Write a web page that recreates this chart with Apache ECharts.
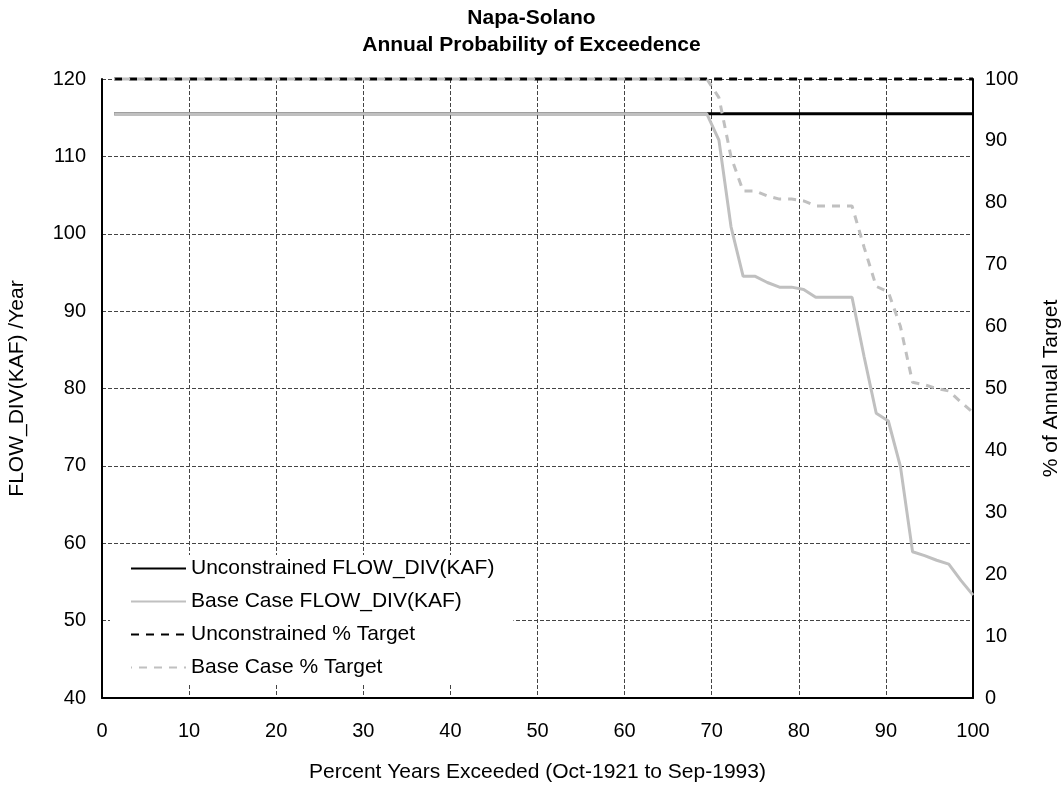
<!DOCTYPE html>
<html>
<head>
<meta charset="utf-8">
<title>Napa-Solano Annual Probability of Exceedence</title>
<script src="https://cdn.jsdelivr.net/npm/echarts@6/dist/echarts.min.js"></script>
<style>
  html, body { margin: 0; padding: 0; background: #fff; }
  #chart { width: 1063px; height: 787px; }
</style>
</head>
<body>
<div id="chart"></div>
<script>
// Exceedance position of each water year (72 years, Oct-1921 to Sep-1993), percent
const exceedPct = [
  1.39, 2.78, 4.17, 5.56, 6.94, 8.33, 9.72, 11.11, 12.50, 13.89, 15.28, 16.67,
  18.06, 19.44, 20.83, 22.22, 23.61, 25.00, 26.39, 27.78, 29.17, 30.56, 31.94, 33.33,
  34.72, 36.11, 37.50, 38.89, 40.28, 41.67, 43.06, 44.44, 45.83, 47.22, 48.61, 50.00,
  51.39, 52.78, 54.17, 55.56, 56.94, 58.33, 59.72, 61.11, 62.50, 63.89, 65.28, 66.67,
  68.06, 69.44, 70.83, 72.22, 73.61, 75.00, 76.39, 77.78, 79.17, 80.56, 81.94, 83.33,
  84.72, 86.11, 87.50, 88.89, 90.28, 91.67, 93.06, 94.44, 95.83, 97.22, 98.61, 100.00
];

// Annual diversion, KAF, sorted descending
const unconstrainedFlow = [
  115.5, 115.5, 115.5, 115.5, 115.5, 115.5, 115.5, 115.5, 115.5, 115.5, 115.5, 115.5,
  115.5, 115.5, 115.5, 115.5, 115.5, 115.5, 115.5, 115.5, 115.5, 115.5, 115.5, 115.5,
  115.5, 115.5, 115.5, 115.5, 115.5, 115.5, 115.5, 115.5, 115.5, 115.5, 115.5, 115.5,
  115.5, 115.5, 115.5, 115.5, 115.5, 115.5, 115.5, 115.5, 115.5, 115.5, 115.5, 115.5,
  115.5, 115.5, 115.5, 115.5, 115.5, 115.5, 115.5, 115.5, 115.5, 115.5, 115.5, 115.5,
  115.5, 115.5, 115.5, 115.5, 115.5, 115.5, 115.5, 115.5, 115.5, 115.5, 115.5, 115.5
];
const baseCaseFlow = [
  115.5, 115.5, 115.5, 115.5, 115.5, 115.5, 115.5, 115.5, 115.5, 115.5, 115.5, 115.5,
  115.5, 115.5, 115.5, 115.5, 115.5, 115.5, 115.5, 115.5, 115.5, 115.5, 115.5, 115.5,
  115.5, 115.5, 115.5, 115.5, 115.5, 115.5, 115.5, 115.5, 115.5, 115.5, 115.5, 115.5,
  115.5, 115.5, 115.5, 115.5, 115.5, 115.5, 115.5, 115.5, 115.5, 115.5, 115.5, 115.5,
  115.5, 115.5, 112.1, 100.9, 94.5, 94.5, 93.7, 93.1, 93.1, 92.8, 91.8, 91.8,
  91.8, 91.8, 84.1, 76.8, 75.8, 69.9, 58.9, 58.4, 57.8, 57.3, 55.2, 53.3
];

// Share of the annual target met, percent
const unconstrainedPct = [
  100, 100, 100, 100, 100, 100, 100, 100, 100, 100, 100, 100,
  100, 100, 100, 100, 100, 100, 100, 100, 100, 100, 100, 100,
  100, 100, 100, 100, 100, 100, 100, 100, 100, 100, 100, 100,
  100, 100, 100, 100, 100, 100, 100, 100, 100, 100, 100, 100,
  100, 100, 100, 100, 100, 100, 100, 100, 100, 100, 100, 100,
  100, 100, 100, 100, 100, 100, 100, 100, 100, 100, 100, 100
];
const baseCasePct = [
  100, 100, 100, 100, 100, 100, 100, 100, 100, 100, 100, 100,
  100, 100, 100, 100, 100, 100, 100, 100, 100, 100, 100, 100,
  100, 100, 100, 100, 100, 100, 100, 100, 100, 100, 100, 100,
  100, 100, 100, 100, 100, 100, 100, 100, 100, 100, 100, 100,
  100, 100, 97.0, 87.4, 81.9, 81.9, 81.1, 80.6, 80.6, 80.3, 79.5, 79.5,
  79.5, 79.5, 72.8, 66.5, 65.6, 60.0, 51.0, 50.6, 50.0, 49.6, 47.8, 46.1
];

const seriesNames = [
  'Unconstrained FLOW_DIV(KAF)',
  'Base Case FLOW_DIV(KAF)',
  'Unconstrained % Target',
  'Base Case % Target'
];

const FONT = '"Liberation Sans", Arial, sans-serif';
const GRAY = '#c0c0c0';

function pairs(xs, ys) {
  return xs.map((x, i) => [x, ys[i]]);
}

const chart = echarts.init(document.getElementById('chart'), null, { renderer: 'canvas' });

chart.setOption({
  backgroundColor: '#ffffff',
  animation: false,
  textStyle: { fontFamily: FONT, color: '#000' },
  title: {
    text: 'Napa-Solano\nAnnual Probability of Exceedence',
    left: 'center',
    top: 0,
    textStyle: {
      fontFamily: FONT, fontSize: 21, fontWeight: 'bold', color: '#000', lineHeight: 27
    }
  },
  // fixed plot rectangle; axis names sit in the margins
  grid: { left: 102, right: 90, top: 79, bottom: 89, containLabel: false, outerBoundsMode: 'none' },
  legend: {
    orient: 'vertical',
    left: 110,
    top: 555,
    padding: [3, 19, 6, 20],
    itemGap: 12,
    itemWidth: 55,
    itemHeight: 14,
    backgroundColor: '#ffffff',
    z: 20,
    data: seriesNames,
    // line-only keys: hide the marker that line series add to their legend icon
    itemStyle: { opacity: 0 },
    textStyle: { fontFamily: FONT, fontSize: 21, color: '#000' }
  },
  xAxis: {
    type: 'value',
    min: 0,
    max: 100,
    interval: 10,
    name: 'Percent Years Exceeded (Oct-1921 to Sep-1993)',
    nameLocation: 'middle',
    nameGap: 64,
    nameTextStyle: { fontFamily: FONT, fontSize: 21, color: '#000' },
    axisLine: { show: true, lineStyle: { color: '#000', width: 2 } },
    axisTick: { show: false },
    axisLabel: { fontFamily: FONT, fontSize: 20, color: '#000', margin: 23 },
    splitLine: { show: true, lineStyle: { color: '#444', width: 1, type: [4, 2] } }
  },
  yAxis: [
    {
      type: 'value',
      position: 'left',
      min: 40,
      max: 120,
      interval: 10,
      name: 'FLOW_DIV(KAF) /Year',
      nameLocation: 'middle',
      nameRotate: 90,
      nameGap: 74,
      nameTextStyle: { fontFamily: FONT, fontSize: 21, color: '#000' },
      axisLine: { show: true, onZero: false, lineStyle: { color: '#000', width: 2 } },
      axisTick: { show: false },
      axisLabel: { fontFamily: FONT, fontSize: 20, color: '#000', margin: 16 },
      splitLine: { show: true, lineStyle: { color: '#444', width: 1, type: [4, 2] } }
    },
    {
      type: 'value',
      position: 'right',
      min: 0,
      max: 100,
      interval: 10,
      name: '% of Annual Target',
      nameLocation: 'middle',
      nameRotate: 90,
      nameGap: 68,
      nameTextStyle: { fontFamily: FONT, fontSize: 21, color: '#000' },
      axisLine: { show: true, onZero: false, lineStyle: { color: '#000', width: 2 } },
      axisTick: { show: false },
      axisLabel: { fontFamily: FONT, fontSize: 20, color: '#000', margin: 12 },
      splitLine: { show: false }
    }
  ],
  series: [
    {
      name: seriesNames[0],
      type: 'line',
      yAxisIndex: 0,
      data: pairs(exceedPct, unconstrainedFlow),
      symbol: 'none',
      clip: false,
      z: 3,
      lineStyle: { color: '#000', width: 3 },
      itemStyle: { color: '#000' }
    },
    {
      name: seriesNames[1],
      type: 'line',
      yAxisIndex: 0,
      data: pairs(exceedPct, baseCaseFlow),
      symbol: 'none',
      clip: false,
      z: 4,
      lineStyle: { color: GRAY, width: 3 },
      itemStyle: { color: GRAY }
    },
    {
      name: seriesNames[2],
      type: 'line',
      yAxisIndex: 1,
      data: pairs(exceedPct, unconstrainedPct),
      symbol: 'none',
      clip: false,
      z: 3,
      lineStyle: { color: '#000', width: 3, type: [8, 7] },
      itemStyle: { color: '#000' }
    },
    {
      name: seriesNames[3],
      type: 'line',
      yAxisIndex: 1,
      data: pairs(exceedPct, baseCasePct),
      symbol: 'none',
      clip: false,
      z: 4,
      lineStyle: { color: GRAY, width: 3, type: [8, 7], dashOffset: 7 },
      itemStyle: { color: GRAY }
    }
  ]
});
</script>
</body>
</html>
